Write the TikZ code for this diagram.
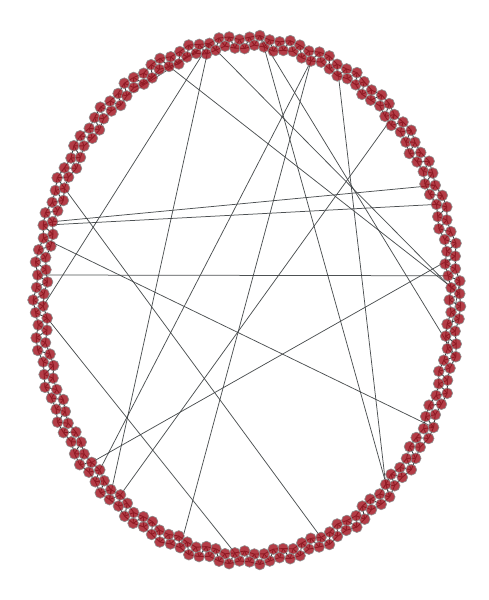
\documentclass[tikz,border=0pt]{standalone}
\usetikzlibrary{calc}
\pgfdeclarelayer{bg}
\pgfsetlayers{bg,main}
\definecolor{vfill}{RGB}{162,18,30}
\definecolor{vline}{RGB}{140,140,140}
\definecolor{eline}{RGB}{58,62,64}
\tikzset{
  vtx/.style={circle,inner sep=0pt,minimum size=10.8pt,fill=vfill,fill opacity=0.82,draw=vline,draw opacity=0.9,line width=0.7pt},
  ringedge/.style={draw=eline,line width=0.9pt},
  chord/.style={draw=eline,draw opacity=0.9,line width=0.75pt}
}
\begin{document}
\begin{tikzpicture}[x=1pt,y=-1pt]
\useasboundingbox (0,0) rectangle (489,600);
\def\N{262}
\pgfmathtruncatemacro\Nm{\N-1}
\pgfmathsetmacro\st{360/\N}
\pgfmathsetmacro\sc{\N/240}
\foreach \i in {0,...,\Nm}{
  \pgfmathsetmacro\t{\i*\st}
  \pgfmathsetmacro\d{(2*mod(\i,2)-1)*4.8+2.2*sin(mod(\i*53,360))}
  \pgfmathsetmacro\px{247+(207+\d)*cos(\t)}
  \pgfmathsetmacro\py{300+(258+\d)*sin(\t)}
  \node[vtx] (n\i) at (\px,\py) {};
}
\begin{pgfonlayer}{bg}
\foreach \i in {0,...,\Nm}{
  \pgfmathtruncatemacro\ja{mod(\i+1,\N)}
  \pgfmathtruncatemacro\jb{mod(\i+2,\N)}
  \draw[ringedge] (n\i.center) -- (n\ja.center);
  \draw[ringedge] (n\i.center) -- (n\jb.center);
}
\foreach \a/\b in {173/156,173/158,173/119,173/87,173/238,165/239,137/46,192/92,192/72,182/8,183/32,197/31,210/86,132/223,131/225,124/236,129/19,117/62,234/93,237/7}{
  \pgfmathtruncatemacro\aa{mod(round(\a*\sc),\N)}
  \pgfmathtruncatemacro\bb{mod(round(\b*\sc),\N)}
  \draw[chord] (n\aa.center) -- (n\bb.center);
}
\end{pgfonlayer}
\end{tikzpicture}
\end{document}
